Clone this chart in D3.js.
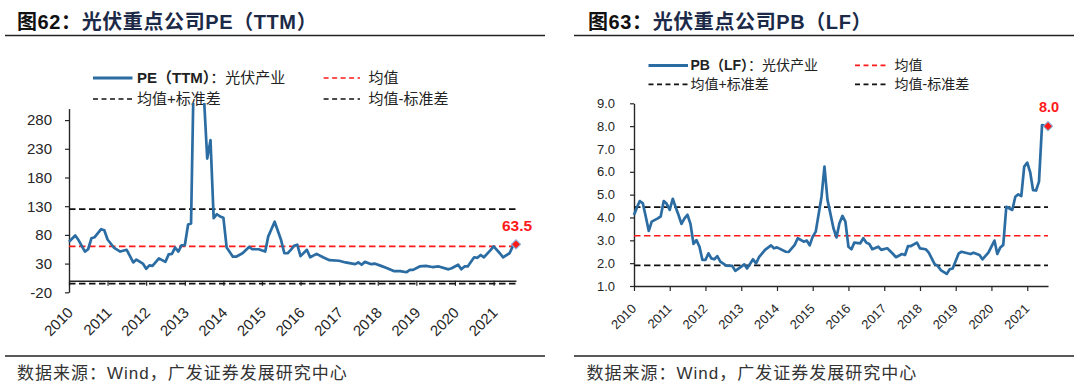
<!DOCTYPE html>
<html>
<head>
<meta charset="utf-8">
<script src="https://cdn.jsdelivr.net/npm/d3@7"></script>
<style>
body { margin: 0; background: #fff; }
text { font-family: "Liberation Sans", Arial, "Noto Sans CJK SC", sans-serif; }
</style>
</head>
<body>
<div id="chart"></div>
<script>
// ---- data (monthly, 2010-01 .. 2021-08) ----

var yearLabels = ["2010","2011","2012","2013","2014","2015","2016","2017","2018","2019","2020","2021"];

var peDates = ["2010-01","2010-03","2010-04","2010-06","2010-07","2010-08","2010-09","2010-11","2010-12",
  "2011-01","2011-03","2011-05","2011-07","2011-09","2011-10","2011-12",
  "2012-01","2012-02","2012-03","2012-05","2012-07","2012-08","2012-09","2012-10","2012-11","2012-12",
  "2013-01","2013-02","2013-03","2013-04","2013-05","2013-06","2013-07","2013-08","2013-09","2013-10","2013-11","2013-12",
  "2014-01","2014-02","2014-04","2014-05","2014-07","2014-09","2014-10","2014-12",
  "2015-02","2015-03","2015-05","2015-07","2015-08","2015-09","2015-10","2015-11","2015-12",
  "2016-01","2016-03","2016-04","2016-06","2016-08","2016-10",
  "2017-01","2017-03","2017-06","2017-07","2017-08","2017-09","2017-11","2017-12",
  "2018-02","2018-04","2018-06","2018-08","2018-10","2018-11","2018-12",
  "2019-02","2019-04","2019-06","2019-08","2019-11","2019-12",
  "2020-02","2020-03","2020-04","2020-05","2020-07","2020-08","2020-09","2020-10","2020-12",
  "2021-01","2021-03","2021-04","2021-06","2021-07","2021-08"];

var peValues = [68,79,71,51,55,74,76,90,88,
  72,58,51,54,32,37,30,
  21,27,26,39,33,46,47,58,51,62,
  62,98,100,420,460,400,320,213,245,109,116,112,
  110,58,42,42,48,59,55,55,
  51,77,103,71,48,48,54,61,63,
  43,54,41,47,41,36,
  35,32,29,32,28,33,29,30,
  26,22,17,17,15,19,19,
  25,26,24,25,20,22,
  28,20,25,25,41,40,45,41,53,
  60,48,41,48,60,63.5];

var pbDates = ["2010-01","2010-02","2010-03","2010-04","2010-05","2010-06","2010-07","2010-09","2010-10","2010-11","2010-12",
  "2011-01","2011-02","2011-03","2011-04","2011-05","2011-06","2011-07","2011-08","2011-09","2011-10","2011-11","2011-12",
  "2012-01","2012-02","2012-03","2012-04","2012-05","2012-06","2012-08","2012-10","2012-11",
  "2013-01","2013-02","2013-03","2013-05","2013-06","2013-07","2013-09","2013-11","2013-12",
  "2014-01","2014-04","2014-05","2014-07","2014-08","2014-10","2014-11","2014-12",
  "2015-01","2015-02","2015-04","2015-05","2015-06","2015-08","2015-09","2015-10","2015-11","2015-12",
  "2016-01","2016-02","2016-03","2016-05","2016-06","2016-07","2016-08","2016-09","2016-11","2016-12",
  "2017-02","2017-04","2017-05","2017-07","2017-08","2017-09","2017-10","2017-12",
  "2018-01","2018-03","2018-04","2018-06","2018-07","2018-08","2018-10","2018-11","2018-12",
  "2019-02","2019-03","2019-06","2019-07","2019-09","2019-10","2019-12",
  "2020-02","2020-03","2020-04","2020-05","2020-06","2020-08","2020-09","2020-10","2020-11","2020-12",
  "2021-01","2021-02","2021-03","2021-04","2021-05","2021-06","2021-08"];

var pbValues = [4.11,4.45,4.72,4.62,4.04,3.41,3.82,3.96,4.05,4.72,4.6,
  4.33,4.82,4.47,4.11,3.72,3.96,4.12,3.72,2.84,3.01,2.72,2.14,
  2.14,2.43,2.21,2.17,2.31,2.07,1.89,1.88,1.66,
  1.85,1.95,1.77,2.17,1.99,2.26,2.58,2.78,2.65,
  2.69,2.5,2.49,2.8,3.09,2.94,2.99,2.78,
  3.16,3.38,4.91,6.23,4.77,3.53,3.13,3.75,4.07,3.82,
  2.72,2.61,2.9,2.87,3.09,2.9,2.84,2.61,2.72,2.58,
  2.65,2.4,2.26,2.4,2.36,2.75,2.75,2.9,
  2.65,2.61,2.46,1.95,1.88,1.7,1.53,1.73,1.77,
  2.43,2.5,2.4,2.46,2.36,2.17,2.46,
  2.99,2.4,2.69,2.8,4.47,4.33,4.91,5.01,4.94,6.23,
  6.4,5.96,5.2,5.18,5.57,8.05,8.0];

var peTicks = [-20, 30, 80, 130, 180, 230, 280];
var pbTicks = [1, 2, 3, 4, 5, 6, 7, 8, 9];

// mean, mean+sd, mean-sd
var peBands = [60, 125, -5];
var pbBands = [3.2, 4.45, 1.9];

var BLUE = "#2B6CA3";
var RED = "#FF1A1A";

var parseMonth = d3.timeParse("%Y-%m");

var svg = d3.select("#chart")
  .append("svg")
  .attr("width", 1080)
  .attr("height", 391);

function drawPanel(p) {
  var g = svg.append("g");

  // title + rules
  var title = g.append("text")
    .attr("x", p.titleX)
    .attr("y", 28.5)
    .style("font-size", "20px")
    .style("font-weight", "bold")
    .style("letter-spacing", "0.6px");
  title.append("tspan").attr("fill", "#111").text(p.titleNo);
  title.append("tspan").attr("fill", "#1c2a48").text(p.titleText);

  g.append("line")
    .attr("x1", p.ruleX0).attr("x2", p.ruleX1)
    .attr("y1", 35.5).attr("y2", 35.5)
    .attr("stroke", "#222").attr("stroke-width", 1.3);

  g.append("line")
    .attr("x1", p.ruleX0).attr("x2", p.ruleX1)
    .attr("y1", 356).attr("y2", 356)
    .attr("stroke", "#222").attr("stroke-width", 1.3);

  g.append("text")
    .attr("x", p.sourceX)
    .attr("y", 379)
    .attr("fill", "#333")
    .style("font-size", "17px")
    .style("letter-spacing", "1px")
    .text("数据来源：Wind，广发证券发展研究中心");

  // legend
  var lg = p.legend;
  var fs = lg.fontSize;
  g.append("line")
    .attr("x1", lg.c1[0]).attr("x2", lg.c1[1])
    .attr("y1", lg.r1).attr("y2", lg.r1)
    .attr("stroke", BLUE).attr("stroke-width", 3);
  var t1 = g.append("text")
    .attr("x", lg.c1[2]).attr("y", lg.r1 + fs * 0.36)
    .attr("fill", "#222")
    .style("font-size", fs + "px");
  t1.append("tspan").style("font-weight", "bold").text(p.seriesName);
  t1.append("tspan").text("：光伏产业");

  var legendDash = [
    [lg.c2, lg.r1, RED, "均值"],
    [lg.c1, lg.r2, "#111", "均值+标准差"],
    [lg.c2, lg.r2, "#111", "均值-标准差"]
  ];
  legendDash.forEach(function (d) {
    g.append("line")
      .attr("x1", d[0][0]).attr("x2", d[0][1])
      .attr("y1", d[1]).attr("y2", d[1])
      .attr("stroke", d[2]).attr("stroke-width", 1.6)
      .attr("stroke-dasharray", "5,3.5");
    g.append("text")
      .attr("x", d[0][2]).attr("y", d[1] + fs * 0.36)
      .attr("fill", "#222")
      .style("font-size", fs + "px")
      .text(d[3]);
  });

  // scales
  var data = p.dates.map(function (s, i) {
    return { date: parseMonth(s), value: p.values[i] };
  });
  var last = data[data.length - 1];

  var x = d3.scaleTime()
    .domain([parseMonth("2010-01"), last.date])
    .range([p.x0, p.x1]);

  var y = d3.scaleLinear()
    .domain(p.yDomain)
    .range([p.yBottom, p.yTop]);

  var yearDates = yearLabels.map(function (s) { return parseMonth(s + "-01"); });

  // y axis
  var yAxis = g.append("g")
    .attr("transform", "translate(" + p.x0 + ",0)")
    .call(d3.axisLeft(y)
      .tickValues(p.yTicks)
      .tickSize(4)
      .tickSizeOuter(0)
      .tickPadding(p.yPad)
      .tickFormat(p.yFormat));
  yAxis.select(".domain").attr("stroke", "#262626").attr("stroke-width", 1.4);
  yAxis.selectAll(".tick line").attr("stroke", "#262626").attr("stroke-width", 1.2);
  yAxis.selectAll(".tick text")
    .attr("fill", "#262626")
    .style("font-size", p.tickFont + "px");

  // x axis
  var xAxisY = y(p.xAxisAt);
  var xAxis = g.append("g")
    .attr("transform", "translate(0," + xAxisY + ")")
    .call(d3.axisBottom(x)
      .tickValues(yearDates)
      .tickSize(5)
      .tickSizeOuter(0)
      .tickFormat(""));
  xAxis.select(".domain").attr("stroke", "#262626").attr("stroke-width", 1.4);
  xAxis.selectAll(".tick line").attr("stroke", "#262626").attr("stroke-width", 1.2);

  g.selectAll(".yearlabel-" + p.id)
    .data(yearDates)
    .enter()
    .append("text")
    .attr("class", "yearlabel-" + p.id)
    .attr("transform", function (d, i) {
      return "translate(" + (x(d) + p.xLabelDx) + "," + p.xLabelY + ") rotate(-45)";
    })
    .attr("text-anchor", "end")
    .attr("fill", "#262626")
    .style("font-size", p.tickFont + "px")
    .text(function (d, i) { return yearLabels[i]; });

  // reference lines: mean (red), mean +/- sd (black)
  p.bands.forEach(function (v, i) {
    g.append("line")
      .attr("x1", p.x0).attr("x2", p.x1)
      .attr("y1", y(v)).attr("y2", y(v))
      .attr("stroke", i === 0 ? RED : "#111")
      .attr("stroke-width", 1.7)
      .attr("stroke-dasharray", "6.5,3.5");
  });

  // series line, clipped at the plot top
  var clipId = "clip-" + p.id;
  svg.append("defs").append("clipPath").attr("id", clipId)
    .append("rect")
    .attr("x", p.x0 - 5).attr("y", p.clipTop)
    .attr("width", p.x1 - p.x0 + 15).attr("height", 300);

  var line = d3.line()
    .x(function (d) { return x(d.date); })
    .y(function (d) { return y(d.value); });

  g.append("path")
    .datum(data)
    .attr("clip-path", "url(#" + clipId + ")")
    .attr("fill", "none")
    .attr("stroke", BLUE)
    .attr("stroke-width", 2.7)
    .attr("stroke-linejoin", "round")
    .attr("d", line);

  // last value marker (square diamond) + label
  g.append("path")
    .attr("transform", "translate(" + x(last.date) + "," + y(last.value) + ") rotate(45)")
    .attr("d", d3.symbol().type(d3.symbolSquare).size(42))
    .attr("fill", RED)
    .attr("stroke", "#8db3dc")
    .attr("stroke-width", 1);

  g.append("text")
    .attr("x", x(last.date) + 1)
    .attr("y", y(last.value) - p.lastLabelGap)
    .attr("text-anchor", "middle")
    .attr("fill", RED)
    .style("font-size", p.lastFont + "px")
    .style("font-weight", "bold")
    .text(p.yFormat(last.value));
}

drawPanel({
  id: "pe",
  titleX: 17, titleNo: "图62：", titleText: "光伏重点公司PE（TTM）",
  ruleX0: 5, ruleX1: 545, sourceX: 17,
  seriesName: "PE（TTM）",
  legend: { fontSize: 15, r1: 78, r2: 99, c1: [93, 132.5, 137], c2: [323.6, 360, 368.6] },
  dates: peDates, values: peValues,
  x0: 69, x1: 516,
  yDomain: [-20, 300], yBottom: 292.3, yTop: 108.6, yTicks: peTicks,
  yFormat: function (d) { return String(d); }, yPad: 13,
  tickFont: 15, xAxisAt: 0, xLabelDx: 5, xLabelY: 313.5,
  bands: peBands, clipTop: 103,
  lastFont: 15.5, lastLabelGap: 13.5
});

drawPanel({
  id: "pb",
  titleX: 588, titleNo: "图63：", titleText: "光伏重点公司PB（LF）",
  ruleX0: 574, ruleX1: 1074, sourceX: 586.5,
  seriesName: "PB（LF）",
  legend: { fontSize: 14, r1: 65.4, r2: 84.4, c1: [648.5, 688, 690.5], c2: [855, 886, 894.6] },
  dates: pbDates, values: pbValues,
  x0: 634, x1: 1048,
  yDomain: [1, 9], yBottom: 286, yTop: 103.3, yTicks: pbTicks,
  yFormat: function (d) { return d.toFixed(1); }, yPad: 15,
  tickFont: 13, xAxisAt: 1, xLabelDx: 3, xLabelY: 309.5,
  bands: pbBands, clipTop: 95,
  lastFont: 14.5, lastLabelGap: 14.5
});
</script>
</body>
</html>
